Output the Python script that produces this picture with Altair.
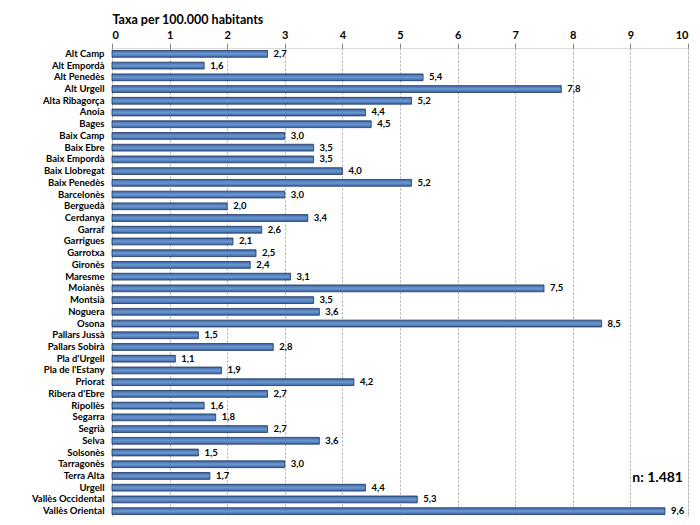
import altair as alt
import pandas as pd

comarques = ["Alt Camp", "Alt Empordà", "Alt Penedès", "Alt Urgell", "Alta Ribagorça",
             "Anoia", "Bages", "Baix Camp", "Baix Ebre", "Baix Empordà", "Baix Llobregat",
             "Baix Penedès", "Barcelonès", "Berguedà", "Cerdanya", "Garraf", "Garrigues",
             "Garrotxa", "Gironès", "Maresme", "Moianès", "Montsià", "Noguera", "Osona",
             "Pallars Jussà", "Pallars Sobirà", "Pla d'Urgell", "Pla de l'Estany", "Priorat",
             "Ribera d'Ebre", "Ripollès", "Segarra", "Segrià", "Selva", "Solsonès",
             "Tarragonès", "Terra Alta", "Urgell", "Vallès Occidental", "Vallès Oriental"]
taxes = [2.7, 1.6, 5.4, 7.8, 5.2, 4.4, 4.5, 3.0, 3.5, 3.5, 4.0, 5.2, 3.0, 2.0, 3.4, 2.6, 2.1,
         2.5, 2.4, 3.1, 7.5, 3.5, 3.6, 8.5, 1.5, 2.8, 1.1, 1.9, 4.2, 2.7, 1.6, 1.8, 2.7, 3.6,
         1.5, 3.0, 1.7, 4.4, 5.3, 9.6]
x_ticks = [0, 1, 2, 3, 4, 5, 6, 7, 8, 9, 10]
n_label = "n: 1.481"
n_row = "Terra Alta"

df = pd.DataFrame({"comarca": comarques, "taxa": taxes})
df["etiqueta"] = df["taxa"].map(lambda v: f"{v:.1f}".replace(".", ","))

FONT = "Lato"

y_enc = alt.Y("comarca:N", sort=comarques, title=None,
              scale=alt.Scale(paddingInner=0.42, paddingOuter=0.21),
              axis=alt.Axis(labelFont=FONT, labelFontWeight="bold", labelFontSize=9.5,
                            labelColor="black", ticks=False, domain=False, labelPadding=8))
x_enc = alt.X("taxa:Q", scale=alt.Scale(domain=[0, 10], nice=False),
              axis=alt.Axis(orient="top", values=x_ticks, format="d", title="Taxa per 100.000 habitants",
                            titleFont=FONT, titleFontSize=12.5, titleFontWeight="bold",
                            titleColor="black", titleAnchor="start", titleAlign="left",
                            titleBaseline="middle", titleX=0, titleY=-29,
                            labelFont=FONT, labelFontWeight="bold", labelFontSize=11,
                            labelColor="black", labelPadding=3, tickSize=5, tickColor="#888888",
                            domain=False, grid=True, gridDash=[2, 2], gridColor="#aaaaaa"))

grad = alt.Gradient(gradient="linear", x1=0, y1=0, x2=0, y2=1,
                    stops=[alt.GradientStop(offset=0, color="#3b66a4"),
                           alt.GradientStop(offset=0.5, color="#6b97d3"),
                           alt.GradientStop(offset=1, color="#3b66a4")])

bars = alt.Chart(df).mark_bar(color=grad, stroke="#1f3558", strokeWidth=0.8).encode(x=x_enc, y=y_enc)

labels = alt.Chart(df).mark_text(align="left", baseline="middle", dx=6, font=FONT,
                                 fontWeight="bold", fontSize=9.5, color="black").encode(
    x="taxa:Q", y=alt.Y("comarca:N", sort=comarques), text="etiqueta:N")

ann = alt.Chart(pd.DataFrame({"t": [n_label], "x": [10], "c": [n_row]})).mark_text(
    align="right", baseline="middle", dx=-5, dy=2, font=FONT, fontWeight="bold", fontSize=14,
    color="black").encode(x="x:Q", y=alt.Y("c:N", sort=comarques), text="t:N")

chart = alt.layer(bars, labels, ann).properties(
    width=576, height=469,
    autosize=alt.AutoSizeParams(type="none"),
    padding={"left": 104, "top": 40, "right": 4, "bottom": 0},
).configure_view(stroke="#777777", strokeWidth=1).configure(background="white")

chart.save("out.html", embed_options={"renderer": "svg", "actions": False})
